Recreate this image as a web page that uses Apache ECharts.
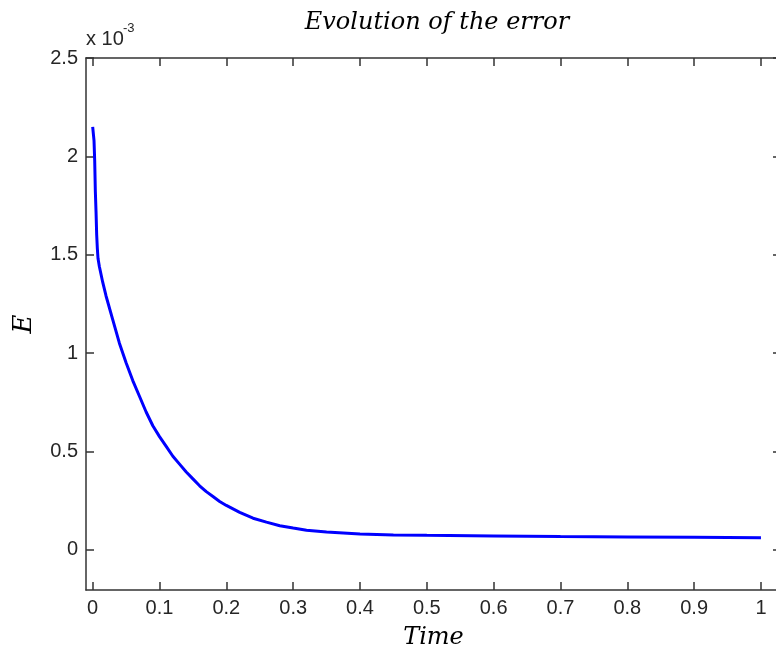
<!DOCTYPE html>
<html><head><meta charset="utf-8">
<script src="https://cdn.jsdelivr.net/npm/echarts@6/dist/echarts.min.js"></script>
<style>html,body{margin:0;padding:0;background:#fff}#c{width:776px;height:645px}</style>
</head><body><div id="c"></div>
<script>
// Time samples and error values (units of 1e-3)
const timeValues = [0, 0.002, 0.003, 0.004, 0.005, 0.006, 0.007, 0.008, 0.01, 0.015, 0.02, 0.03, 0.04, 0.05,
  0.06, 0.07, 0.08, 0.09, 0.10, 0.11, 0.12, 0.13, 0.14, 0.15, 0.16, 0.17, 0.18, 0.19, 0.20, 0.22, 0.24,
  0.26, 0.28, 0.30, 0.32, 0.35, 0.40, 0.45, 0.50, 0.60, 0.70, 0.80, 0.90, 1.00];
const errorValues = [2.15, 2.08, 1.98, 1.82, 1.72, 1.60, 1.53, 1.48, 1.44, 1.36, 1.29, 1.17, 1.05, 0.95,
  0.86, 0.78, 0.70, 0.63, 0.575, 0.525, 0.475, 0.435, 0.395, 0.36, 0.325, 0.295, 0.27, 0.245, 0.225, 0.19, 0.16,
  0.14, 0.122, 0.11, 0.099, 0.09, 0.08, 0.075, 0.073, 0.07, 0.067, 0.065, 0.063, 0.061];
const xTicks = [0, 0.1, 0.2, 0.3, 0.4, 0.5, 0.6, 0.7, 0.8, 0.9, 1];
const xTickLabels = ['0', '0.1', '0.2', '0.3', '0.4', '0.5', '0.6', '0.7', '0.8', '0.9', '1'];
const yTicks = [0, 0.5, 1, 1.5, 2, 2.5];
const yTickLabels = ['0', '0.5', '1', '1.5', '2', '2.5'];
const titleText = 'Evolution of the error';
const xName = 'Time';
const yName = 'E';
const exponentBase = 'x 10';
const exponentPow = '-3';

const X_MIN = -0.01, X_MAX = 1.03, Y_MIN = -0.205, Y_MAX = 2.5;
const axisColor = '#333';
const labelFont = 'Liberation Sans, Arial, sans-serif';
const mathFont = 'DejaVu Serif, serif';

const chart = echarts.init(document.getElementById('c'), null, {renderer: 'canvas'});
const seriesData = timeValues.map((t, i) => [t, errorValues[i]]);

function xLabelFmt(v) {
  const i = xTicks.findIndex(t => Math.abs(t - v) < 1e-9);
  return i >= 0 ? xTickLabels[i] : '';
}
function yLabelFmt(v) {
  const i = yTicks.findIndex(t => Math.abs(t - v) < 1e-9);
  return i >= 0 ? yTickLabels[i] : '';
}

const tickStyle = {lineStyle: {color: axisColor, width: 1.5}};
chart.setOption({
  animation: false,
  backgroundColor: '#fff',
  title: {
    text: titleText, left: 432, textAlign: 'center', top: 6,
    textStyle: {fontFamily: mathFont, fontStyle: 'italic', fontWeight: 'normal', fontSize: 24, color: '#000'}
  },
  grid: {left: 86, right: -5, top: 58, bottom: 55, containLabel: false, outerBoundsMode: 'none'},
  xAxis: [{
    type: 'value', min: X_MIN, max: X_MAX, position: 'bottom',
    splitLine: {show: false},
    axisLine: {show: true, onZero: false, lineStyle: {color: axisColor, width: 1.5}},
    axisTick: Object.assign({show: true, inside: true, length: 8, customValues: xTicks}, tickStyle),
    axisLabel: {show: true, customValues: xTicks, formatter: xLabelFmt, margin: 8,
      fontFamily: labelFont, fontSize: 20, color: '#262626'},
    name: xName, nameLocation: 'middle', nameGap: 36,
    nameTextStyle: {fontFamily: mathFont, fontStyle: 'italic', fontSize: 24, color: '#000'}
  }, {
    type: 'value', min: X_MIN, max: X_MAX, position: 'top',
    splitLine: {show: false},
    axisLine: {show: true, onZero: false, lineStyle: {color: axisColor, width: 1.5}},
    axisTick: Object.assign({show: true, inside: true, length: 8, customValues: xTicks}, tickStyle),
    axisLabel: {show: false}
  }],
  yAxis: [{
    type: 'value', min: Y_MIN, max: Y_MAX, position: 'left',
    splitLine: {show: false},
    axisLine: {show: true, onZero: false, lineStyle: {color: axisColor, width: 1.5}},
    axisTick: Object.assign({show: true, inside: true, length: 8, customValues: yTicks}, tickStyle),
    axisLabel: {show: true, customValues: yTicks, formatter: yLabelFmt, margin: 8,
      fontFamily: labelFont, fontSize: 20, color: '#262626'},
    name: yName, nameLocation: 'middle', nameGap: 49, nameRotate: 90,
    nameTextStyle: {fontFamily: mathFont, fontStyle: 'italic', fontSize: 26, color: '#000'}
  }, {
    type: 'value', min: Y_MIN, max: Y_MAX, position: 'right',
    splitLine: {show: false},
    axisLine: {show: true, onZero: false, lineStyle: {color: axisColor, width: 1.5}},
    axisTick: Object.assign({show: true, inside: true, length: 8, customValues: yTicks}, tickStyle),
    axisLabel: {show: false}
  }],
  graphic: [
    {type: 'text', left: 86, top: 29, style: {text: exponentBase, fontFamily: labelFont, fontSize: 20, fill: '#262626'}},
    {type: 'text', left: 123, top: 22, style: {text: exponentPow, fontFamily: labelFont, fontSize: 13, fill: '#262626'}}
  ],
  series: [{
    type: 'line', xAxisIndex: 0, yAxisIndex: 0, data: seriesData,
    showSymbol: false, symbol: 'none', smooth: false,
    lineStyle: {color: '#0000ff', width: 3}
  }]
});
</script></body></html>
